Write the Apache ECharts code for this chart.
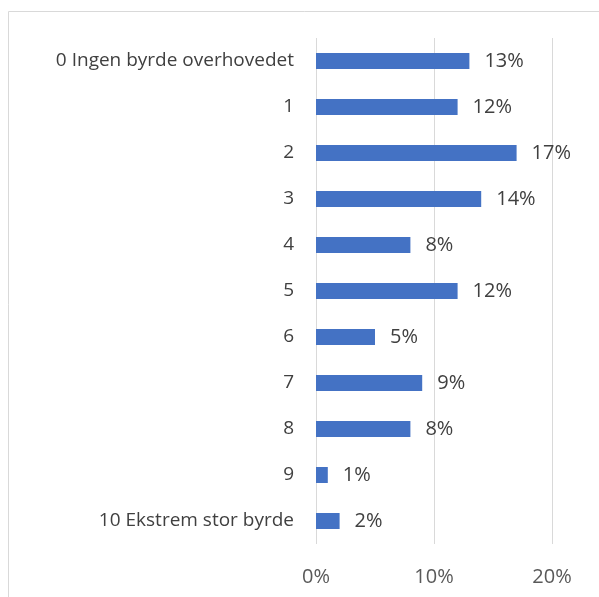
<!DOCTYPE html>
<html>
<head>
<meta charset="utf-8">
<script src="https://cdn.jsdelivr.net/npm/echarts@6/dist/echarts.min.js"></script>
<style>
  html, body { margin: 0; padding: 0; background: #fff; }
  #chart { width: 599px; height: 597px; }
</style>
</head>
<body>
<div id="chart"></div>
<script>
var categories = ['0 Ingen byrde overhovedet', '1', '2', '3', '4', '5', '6', '7', '8', '9', '10 Ekstrem stor byrde'];
var values = [13, 12, 17, 14, 8, 12, 5, 9, 8, 1, 2];
var ticks = [0, 10, 20];

var fontFam = '"Open Sans", "Noto Sans", sans-serif';
var chart = echarts.init(document.getElementById('chart'));
chart.setOption({
  animation: false,
  graphic: [{
    type: 'rect',
    left: 6, top: 9,
    shape: { width: 700, height: 700 },
    style: { fill: 'none', stroke: '#d9d9d9', lineWidth: 1 }
  }],
  grid: { left: 316, right: 47, top: 38, bottom: 53, containLabel: false },
  xAxis: {
    type: 'value',
    min: ticks[0], max: ticks[ticks.length - 1], interval: 10,
    axisLine: { show: false },
    axisTick: { show: false },
    splitLine: { show: true, lineStyle: { color: '#d9d9d9', width: 1 } },
    axisLabel: {
      formatter: '{value}%', color: '#595959', fontSize: 20,
      fontFamily: fontFam, margin: 23
    }
  },
  yAxis: {
    type: 'category',
    data: categories,
    inverse: true,
    axisLine: { show: false },
    axisTick: { show: false },
    axisLabel: { color: '#404040', fontSize: 19, fontFamily: fontFam, margin: 22 }
  },
  series: [{
    type: 'bar',
    data: values,
    barWidth: 16,
    itemStyle: { color: '#4472c4' },
    label: {
      show: true, position: 'right', distance: 15,
      formatter: '{c}%', color: '#404040', fontSize: 20, fontFamily: fontFam
    }
  }]
});
</script>
</body>
</html>
